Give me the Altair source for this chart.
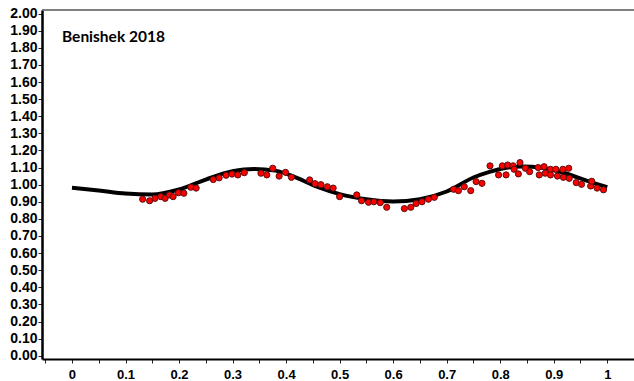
import altair as alt
import pandas as pd

# Observed light-curve points (phase, relative flux)
phase_obs = [0.132, 0.145, 0.155, 0.166, 0.174, 0.182, 0.189, 0.199, 0.209, 0.222,
             0.232, 0.264, 0.275, 0.288, 0.299, 0.310, 0.322, 0.353, 0.364, 0.375,
             0.387, 0.399, 0.410, 0.444, 0.454, 0.465, 0.477, 0.488, 0.500, 0.532,
             0.541, 0.554, 0.564, 0.576, 0.588, 0.621, 0.633, 0.643, 0.654, 0.666,
             0.677, 0.713, 0.722, 0.733, 0.745, 0.755, 0.766, 0.781, 0.797, 0.804,
             0.811, 0.814, 0.824, 0.826, 0.834, 0.837, 0.847, 0.855, 0.871, 0.873,
             0.882, 0.884, 0.894, 0.894, 0.904, 0.907, 0.917, 0.918, 0.928, 0.929,
             0.942, 0.952, 0.969, 0.971, 0.981, 0.993]
flux_obs = [0.915, 0.906, 0.920, 0.930, 0.920, 0.940, 0.930, 0.953, 0.950, 0.985,
            0.980, 1.030, 1.040, 1.055, 1.062, 1.057, 1.070, 1.067, 1.057, 1.096,
            1.050, 1.072, 1.043, 1.028, 1.006, 1.000, 0.988, 0.980, 0.930, 0.940,
            0.906, 0.897, 0.900, 0.895, 0.868, 0.860, 0.868, 0.890, 0.900, 0.915,
            0.926, 0.973, 0.965, 0.988, 0.965, 1.018, 1.008, 1.110, 1.057, 1.110,
            1.057, 1.115, 1.110, 1.090, 1.063, 1.129, 1.096, 1.076, 1.100, 1.057,
            1.105, 1.067, 1.090, 1.057, 1.090, 1.050, 1.090, 1.043, 1.096, 1.037,
            1.012, 1.002, 0.992, 1.020, 0.980, 0.970]

# Model curve
phase_model = [0.00, 0.05, 0.10, 0.15, 0.20, 0.25, 0.30, 0.34, 0.38, 0.42,
               0.46, 0.50, 0.55, 0.60, 0.65, 0.70, 0.75, 0.78, 0.80, 0.84,
               0.88, 0.92, 0.96, 1.00]
flux_model = [0.982, 0.966, 0.948, 0.942, 0.972, 1.030, 1.078, 1.092, 1.082, 1.040,
              0.985, 0.945, 0.915, 0.902, 0.915, 0.960, 1.042, 1.075, 1.092, 1.106,
              1.098, 1.068, 1.025, 0.985]

x_ticks = [-0.05, 0.0, 0.05, 0.1, 0.15, 0.2, 0.25, 0.3, 0.35, 0.4, 0.45, 0.5,
           0.55, 0.6, 0.65, 0.7, 0.75, 0.8, 0.85, 0.9, 0.95, 1.0]
y_ticks = [0.0, 0.1, 0.2, 0.3, 0.4, 0.5, 0.6, 0.7, 0.8, 0.9, 1.0, 1.1, 1.2,
           1.3, 1.4, 1.5, 1.6, 1.7, 1.8, 1.9, 2.0]

chart_label = ["Benishek 2018"]

obs = pd.DataFrame({"phase": phase_obs, "flux": flux_obs})
model = pd.DataFrame({"phase": phase_model, "flux": flux_model})
label_df = pd.DataFrame({"text": chart_label})

W, H = 592, 349
x_scale = alt.Scale(domain=[-0.056, 1.05], nice=False, zero=False)
y_scale = alt.Scale(domain=[-0.019, 2.021], nice=False, zero=False)

x_axis = alt.Axis(
    values=x_ticks, tickCount=100, title=None, format="~g",
    labelExpr="(datum.value > -0.01 && abs(datum.value*10 - round(datum.value*10)) < 0.01) ? datum.label : ''",
    labelFont="Liberation Sans", labelFontWeight="bold", labelFontSize=13,
    labelColor="#000", labelPadding=5, tickSize=4, tickColor="#222",
    domainColor="#000", domainWidth=2, grid=False, labelFlush=False,
    labelOverlap=False,
)
y_axis = alt.Axis(
    values=y_ticks, tickCount=100, title=None, format=".2f",
    labelFont="Liberation Sans", labelFontWeight="bold", labelFontSize=14,
    labelColor="#000", labelPadding=1, tickSize=4, tickColor="#222",
    domainColor="#000", domainWidth=2.5, grid=False, labelFlush=False,
    labelOverlap=False,
)

curve = alt.Chart(model).mark_line(color="#000", strokeWidth=4, interpolate="monotone").encode(
    x=alt.X("phase:Q", scale=x_scale, axis=x_axis),
    y=alt.Y("flux:Q", scale=y_scale, axis=y_axis),
)

dots = alt.Chart(obs).mark_point(
    filled=True, fill="#ff0000", stroke="#5a1010", strokeWidth=1, size=38, opacity=1
).encode(
    x=alt.X("phase:Q", scale=x_scale),
    y=alt.Y("flux:Q", scale=y_scale),
)

top_border = alt.Chart(label_df).mark_rule(color="#555", strokeWidth=1.5).encode(
    x=alt.value(0), x2=alt.value(W), y=alt.value(0)
)

label = alt.Chart(label_df).mark_text(
    align="left", baseline="middle",
    font="Lato", fontWeight="bold", fontSize=15.5, color="#000"
).encode(text="text:N", x=alt.value(20), y=alt.value(27))

chart = alt.layer(top_border, curve, dots, label).properties(
    width=W, height=H,
    background="white",
    autosize=alt.AutoSizeParams(type="none"),
    padding={"left": 42, "top": 10, "right": 0, "bottom": 22},
).configure_view(stroke=None)

chart.save("out.html", embed_options={"renderer": "svg", "actions": False})
